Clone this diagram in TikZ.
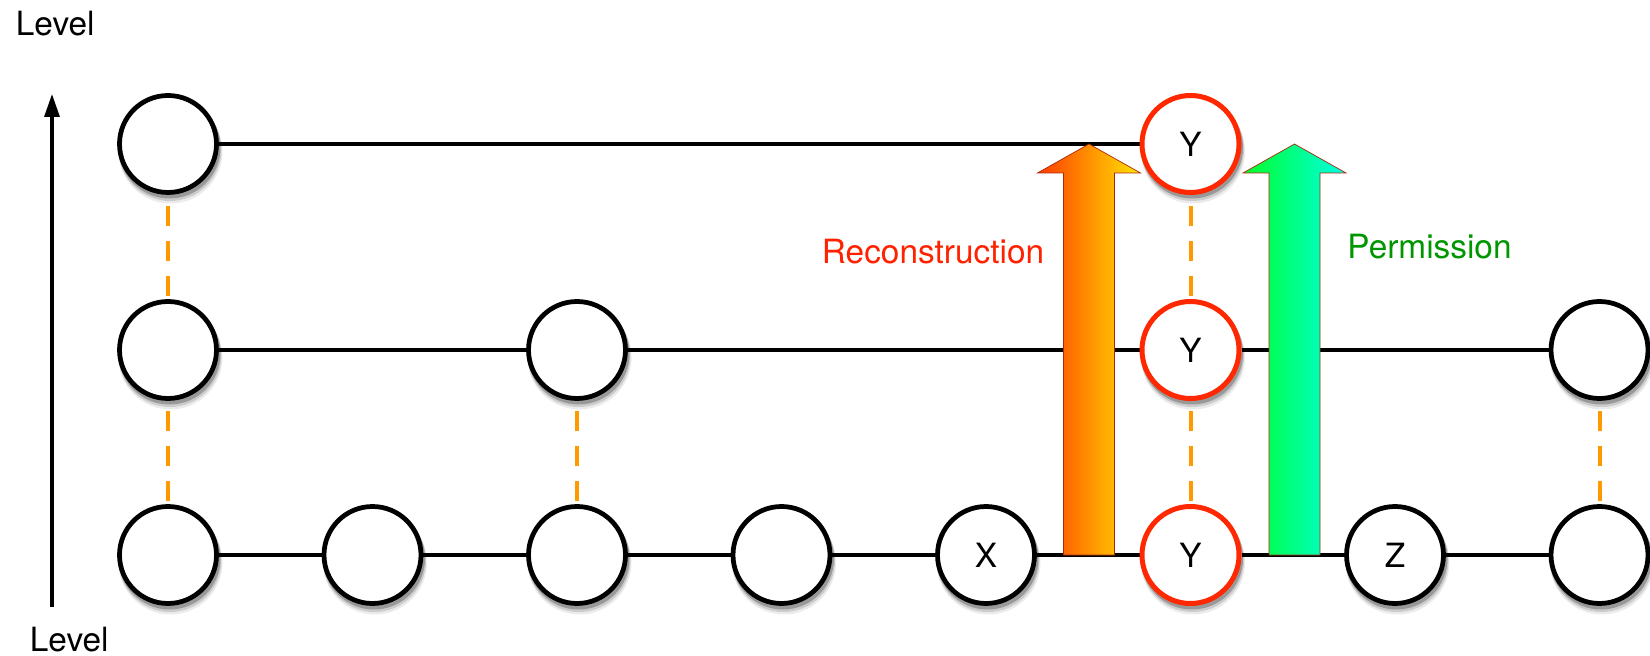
\documentclass[tikz,border=0pt]{standalone}
\usepackage{fontspec}
\setmainfont{TeX Gyre Heros}
\usepackage{tikz}
\usetikzlibrary{arrows.meta,backgrounds}
\definecolor{hitred}{RGB}{255,40,0}
\definecolor{reconred}{RGB}{255,34,0}
\definecolor{permgreen}{RGB}{0,150,0}
\definecolor{rungorange}{RGB}{255,153,0}
\definecolor{arrowrim}{RGB}{170,40,10}
\newcommand\lblfont{\fontsize{19}{22}\selectfont}
\tikzset{
lvl/.style={circle,draw=black,line width=0.095cm,fill=white,minimum size=1.94cm,inner sep=0pt},
hit/.style={lvl,draw=hitred,line width=0.1cm},
link/.style={black,line width=0.07cm},
rung/.style={rungorange,line width=0.08cm,dash pattern=on 0.4cm off 0.3cm,dash phase=0.64cm},
axis/.style={-{Triangle[length=0.46cm,width=0.3cm]},line width=0.065cm,black},
recon/.style={draw=arrowrim,line width=0.4pt,left color={rgb,255:red,255;green,59;blue,0},right color={rgb,255:red,255;green,230;blue,0}},
perm/.style={draw=arrowrim,line width=0.4pt,left color={rgb,255:red,0;green,255;blue,40},right color={rgb,255:red,0;green,255;blue,230}},
tag/.style={anchor=base,inner sep=0pt}
}

\begin{document}
\begin{tikzpicture}[every node/.style={font=\lblfont}]
\useasboundingbox (0,0) rectangle (33,13.1);
% levels
\foreach \i in {0,1,2,3,7} \node[lvl] (b\i) at ({3.36+4.09*\i},2) {};
\node[lvl] (b4) at (19.72,2) {X};
\node[hit] (b5) at (23.81,2) {Y};
\node[lvl] (b6) at (27.90,2) {Z};
\foreach \i in {0,2,7} \node[lvl] (m\i) at ({3.36+4.09*\i},6.1) {};
\node[hit] (m5) at (23.81,6.1) {Y};
\node[lvl] (t0) at (3.36,10.22) {};
\node[hit] (t5) at (23.81,10.22) {Y};
\begin{scope}[on background layer]
% soft shadows
\foreach \n in {b0,b1,b2,b3,b4,b5,b6,b7,m0,m2,m5,m7,t0,t5} {
\fill[black!8] ([xshift=0.05cm,yshift=-0.15cm]\n.center) circle (1.04);
\fill[black!20] ([xshift=0.04cm,yshift=-0.11cm]\n.center) circle (1.03);
\fill[black!40] ([xshift=0.03cm,yshift=-0.07cm]\n.center) circle (1.02);
}
\foreach \a/\b in {b0/b1,b1/b2,b2/b3,b3/b4,b4/b5,b5/b6,b6/b7,m0/m2,m2/m5,m5/m7,t0/t5}
\draw[link] (\a) -- (\b);
\foreach \c in {0,2,5,7} \draw[rung] (b\c) -- (m\c);
\foreach \c in {0,5} \draw[rung] (m\c) -- (t\c);
\end{scope}
% promotion arrows
\foreach \x/\sty in {21.78/recon,25.89/perm}
\path[\sty] (\x-0.51,2) -- (\x+0.51,2) -- (\x+0.51,9.64) -- (\x+1.03,9.64) -- (\x,10.22)
-- (\x-1.03,9.64) -- (\x-0.51,9.64) -- cycle;
\node[tag,text=reconred] (reclbl) at (18.66,7.82) {Reconstruction};
\node[tag,text=permgreen] (permlbl) at (28.59,7.92) {Permission};
% axis
\coordinate (lo) at (1.04,0.96);
\coordinate (hi) at (1.04,11.22);
\draw[axis] (lo) -- (hi);
\node[tag,anchor=base west] (lvltop) at (0.31,12.38) {Level};
\node[tag,anchor=base west] (lvlbot) at (0.59,0.08) {Level};
\end{tikzpicture}
\end{document}
